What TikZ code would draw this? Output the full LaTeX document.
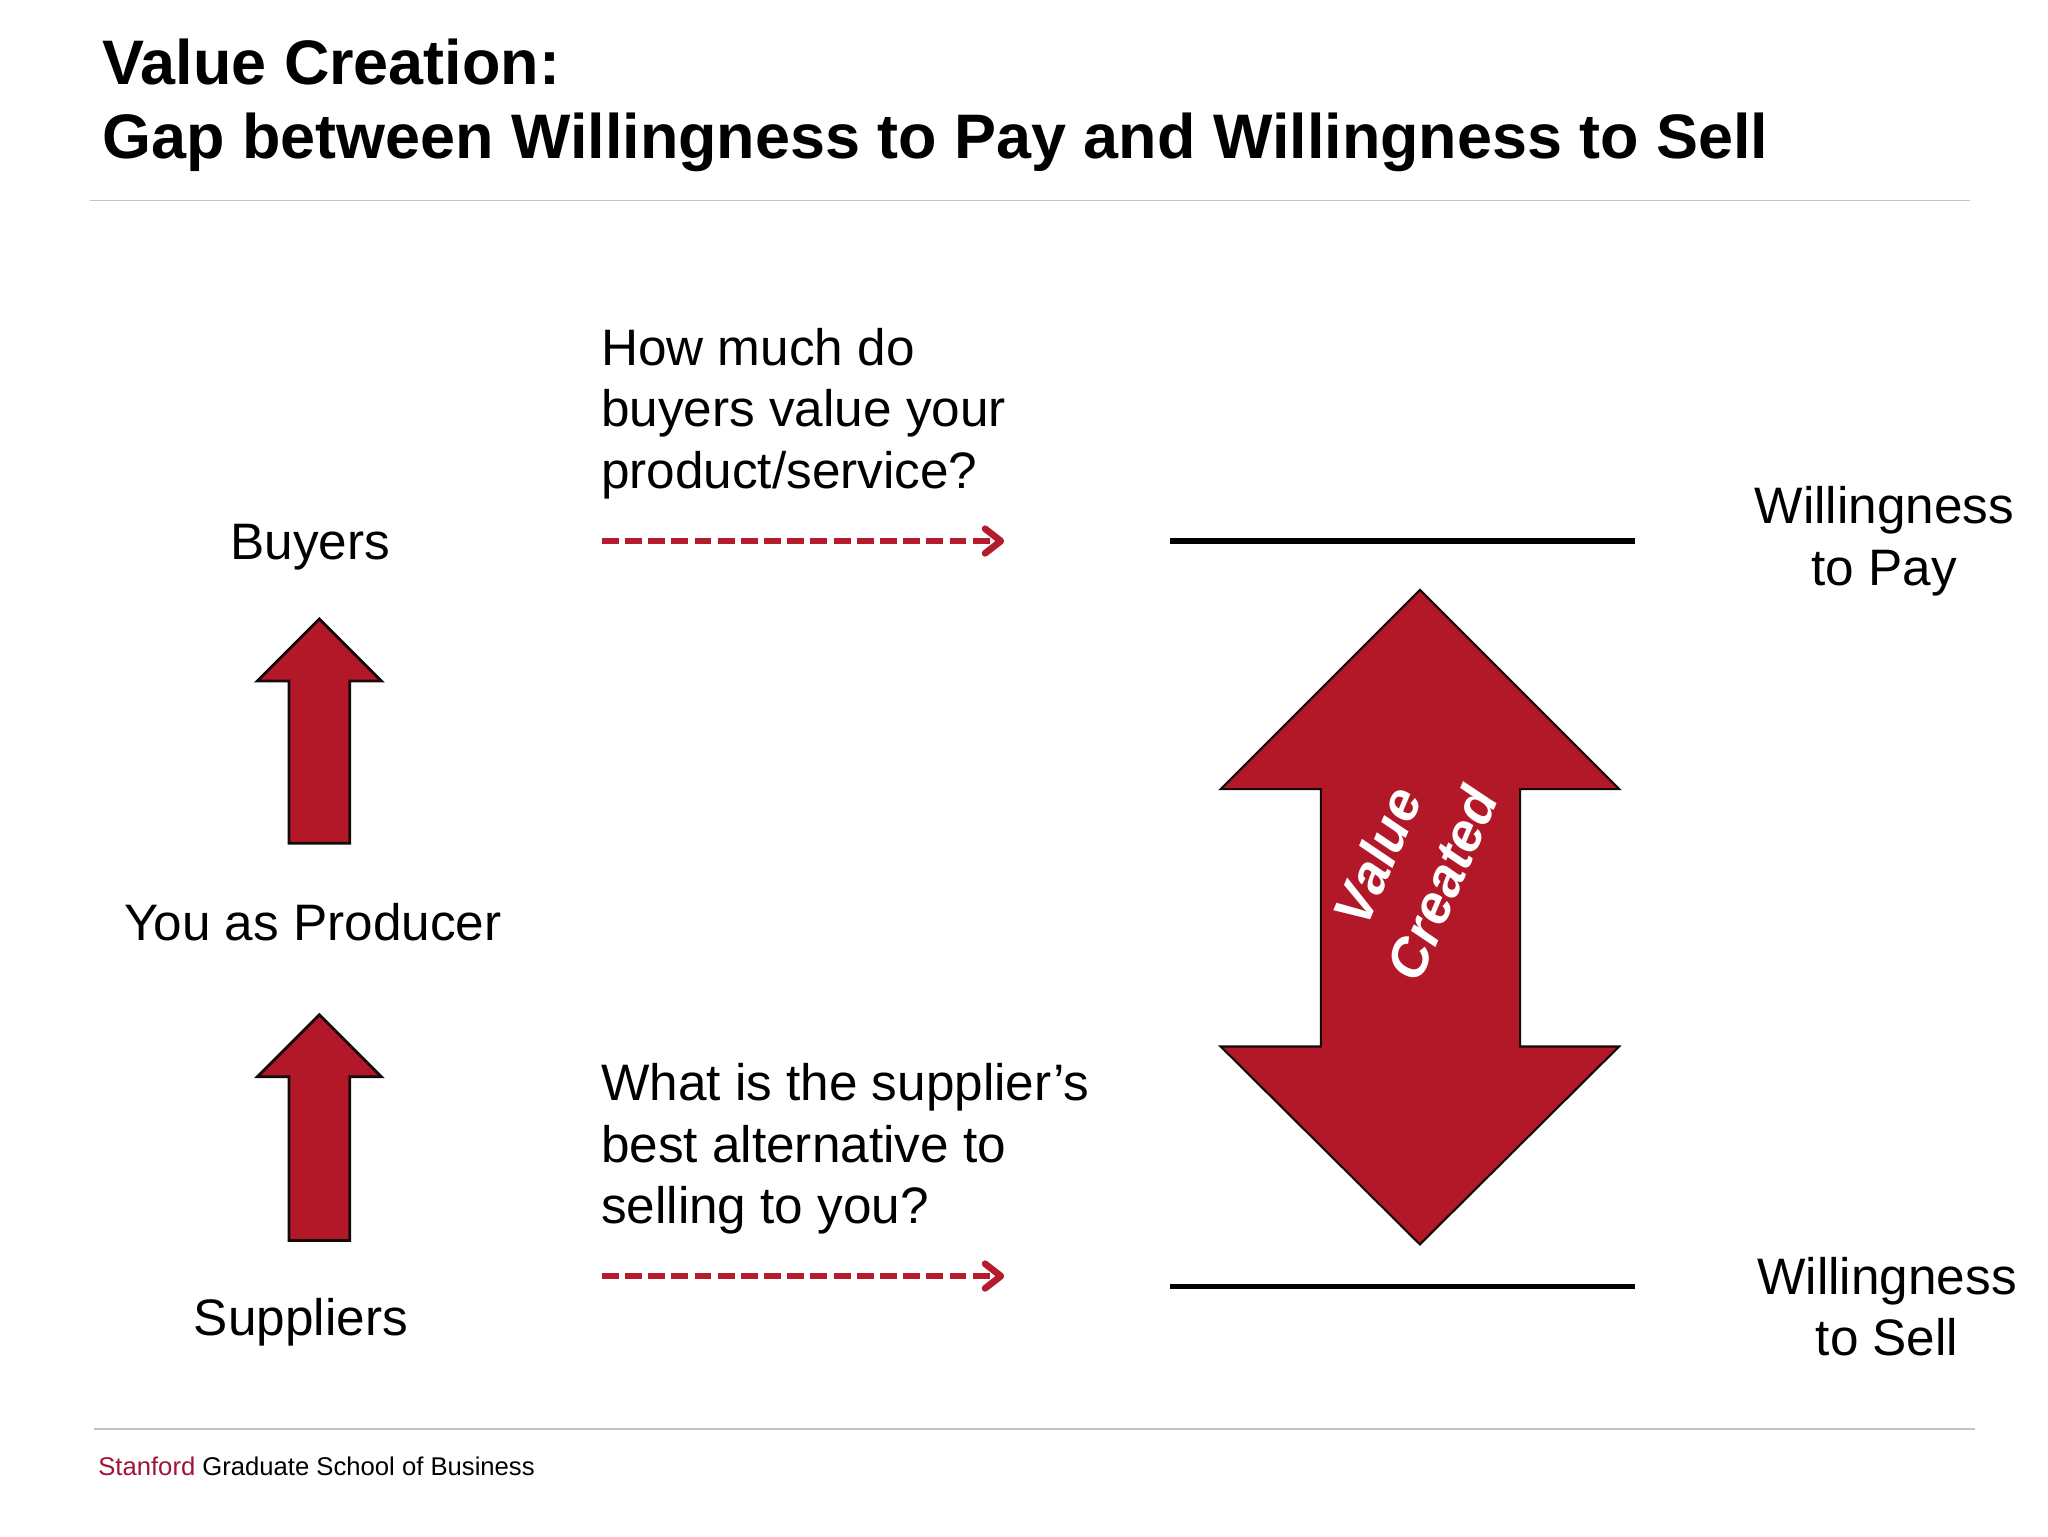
\documentclass[tikz,border=0pt]{standalone}
\usepackage{fontspec}
\setmainfont{Liberation Sans}
\definecolor{ArrowFill}{RGB}{178,24,40}
\definecolor{ArrowBorder}{RGB}{20,10,10}
\definecolor{DashedRed}{RGB}{180,28,46}
\definecolor{RuleGray}{RGB}{195,195,195}
\definecolor{StanfordRed}{RGB}{160,20,56}
\usetikzlibrary{arrows.meta}
\tikzset{
    block arrow/.style={
        fill=ArrowFill, draw=ArrowBorder, line width=0.8pt, line join=miter
    },
    ask arrow/.style={
        draw=DashedRed, line width=1.9pt, dash pattern=on 4.8pt off 1.8pt,
        -{Straight Barb[length=4.5pt, width=7pt, round]}
    },
    level line/.style={draw=black, line width=1.5pt},
    slide rule/.style={draw=RuleGray, line width=0.5pt},
    body text/.style={inner sep=0pt, font=\fontsize{14.6}{17.6}\selectfont},
    title text/.style={inner sep=0pt, font=\fontsize{17.9}{21}\selectfont\bfseries},
    created text/.style={
        inner sep=0pt, align=center, rotate=67,
        font=\fontsize{15.5}{20}\selectfont\bfseries\itshape
    }
}
\begin{document}
\begin{tikzpicture}[x=0.0131959cm, y=-0.0131959cm]

\useasboundingbox[fill=white] (0,0) rectangle (1552,1164);

% Titulo y reglas de la diapositiva
\node[title text, anchor=north west, align=left] (title) at (77,29)
    {Value Creation:\\Gap between Willingness to Pay and Willingness to Sell};
\coordinate (TL) at (68,152);
\coordinate (TR) at (1493,152);
\draw[slide rule] (TL) -- (TR);
\coordinate (FL) at (71,1083);
\coordinate (FR) at (1497,1083);
\draw[slide rule] (FL) -- (FR);
\node[inner sep=0pt, anchor=base west, font=\fontsize{7.3}{9}\selectfont] (footer) at (74,1118)
    {\textcolor{StanfordRed}{Stanford} Graduate School of Business};

% Cadena de actores
\node[body text, anchor=base] (buyers) at (235,424) {Buyers};
\node[body text, anchor=base] (producer) at (237,713) {You as Producer};
\node[body text, anchor=base] (suppliers) at (228,1012) {Suppliers};

% Flechas pequenas
\draw[block arrow] (242,469) -- (289,516) -- (265,516) -- (265,639)
    -- (219,639) -- (219,516) -- (195,516) -- cycle;
\draw[block arrow] (242,769) -- (289,816) -- (265,816) -- (265,940)
    -- (219,940) -- (219,816) -- (195,816) -- cycle;

% Preguntas
\node[body text, anchor=north west, align=left] (askbuyers) at (455,248)
    {How much do\\buyers value your\\product/service?};
\node[body text, anchor=north west, align=left] (asksuppliers) at (455,805)
    {What is the supplier’s\\best alternative to\\selling to you?};

\coordinate (P1) at (456,410);
\coordinate (P2) at (761,410);
\coordinate (S1) at (456,967);
\coordinate (S2) at (761,967);
\draw[ask arrow] (P1) -- (P2);
\draw[ask arrow] (S1) -- (S2);

% Niveles de disposicion a pagar y a vender
\coordinate (WL) at (887,410);
\coordinate (WR) at (1239,410);
\coordinate (VL) at (887,975);
\coordinate (VR) at (1239,975);
\draw[level line] (WL) -- (WR);
\draw[level line] (VL) -- (VR);

\node[body text, anchor=north, align=center] (wtp) at (1428,368)
    {Willingness\\to Pay};
\node[body text, anchor=north, align=center] (wts) at (1430,952)
    {Willingness\\to Sell};

% Flecha doble de valor creado
\draw[block arrow, line width=0.6pt] (1076,447) -- (1227,598) -- (1152,598) -- (1152,793)
    -- (1227,793) -- (1076,943) -- (925,793) -- (1001,793) -- (1001,598)
    -- (925,598) -- cycle;
\node[created text, text=white] (created) at (1068,659) {Value\\Created};

\end{tikzpicture}
\end{document}
